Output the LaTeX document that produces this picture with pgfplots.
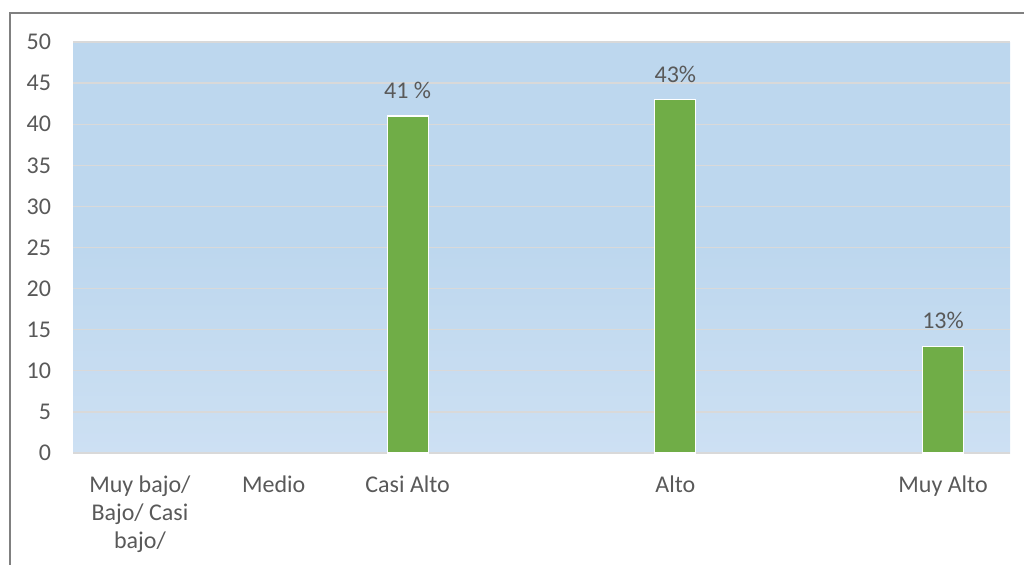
\documentclass[border=0pt]{standalone}
\usepackage{pgfplots}
\pgfplotsset{compat=1.18}
\usepackage{fontspec}
\setmainfont{Carlito}
\definecolor{txt}{HTML}{595959}
\definecolor{gridc}{HTML}{D9D9D9}
\definecolor{barc}{HTML}{70AD47}
\definecolor{bgtop}{HTML}{BDD7EE}
\definecolor{bgbot}{HTML}{CDE0F3}
\definecolor{frame}{HTML}{808080}
\begin{document}
\begin{tikzpicture}
\path[use as bounding box] (0pt,0pt) rectangle (512pt,282pt);
\draw[frame, line width=0.7pt] (5pt,-1pt) -- (5pt,275.5pt) -- (513pt,275.5pt);
\begin{axis}[
  at={(36.5pt,55.5pt)}, anchor=south west,
  scale only axis, width=468.5pt, height=205.5pt,
  xmin=-0.5, xmax=6.5, ymin=0, ymax=50,
  ytick={0,5,...,50},
  xtick={0,1,2,4,6},
  xticklabels={{Muy bajo/\\Bajo/ Casi\\bajo/},Medio,Casi Alto,Alto,Muy Alto},
  axis line style={draw=none},
  major tick length=0pt,
  ymajorgrids, grid style={gridc, line width=0.65pt},
  axis background/.style={top color=bgtop, bottom color=bgbot, middle color=bgtop},
  /pgf/number format/assume math mode=true,
  tick label style={font=\fontsize{12}{14}\selectfont, text=txt},
  yticklabel style={xshift=-7.5pt},
  xticklabel style={align=center, yshift=-8pt},
  ybar, bar width=20.5pt,
  nodes near coords,
  point meta=explicit symbolic,
  every node near coord/.append style={font=\fontsize{12}{14}\selectfont, text=txt, yshift=5pt},
  clip=false,
]
\addplot[fill=barc, draw=white, line width=0.6pt] table[meta=lab] {
x y lab
2 41 {41 \%}
4 43 {43\%}
6 13 {13\%}
};
\end{axis}
\end{tikzpicture}
\end{document}
